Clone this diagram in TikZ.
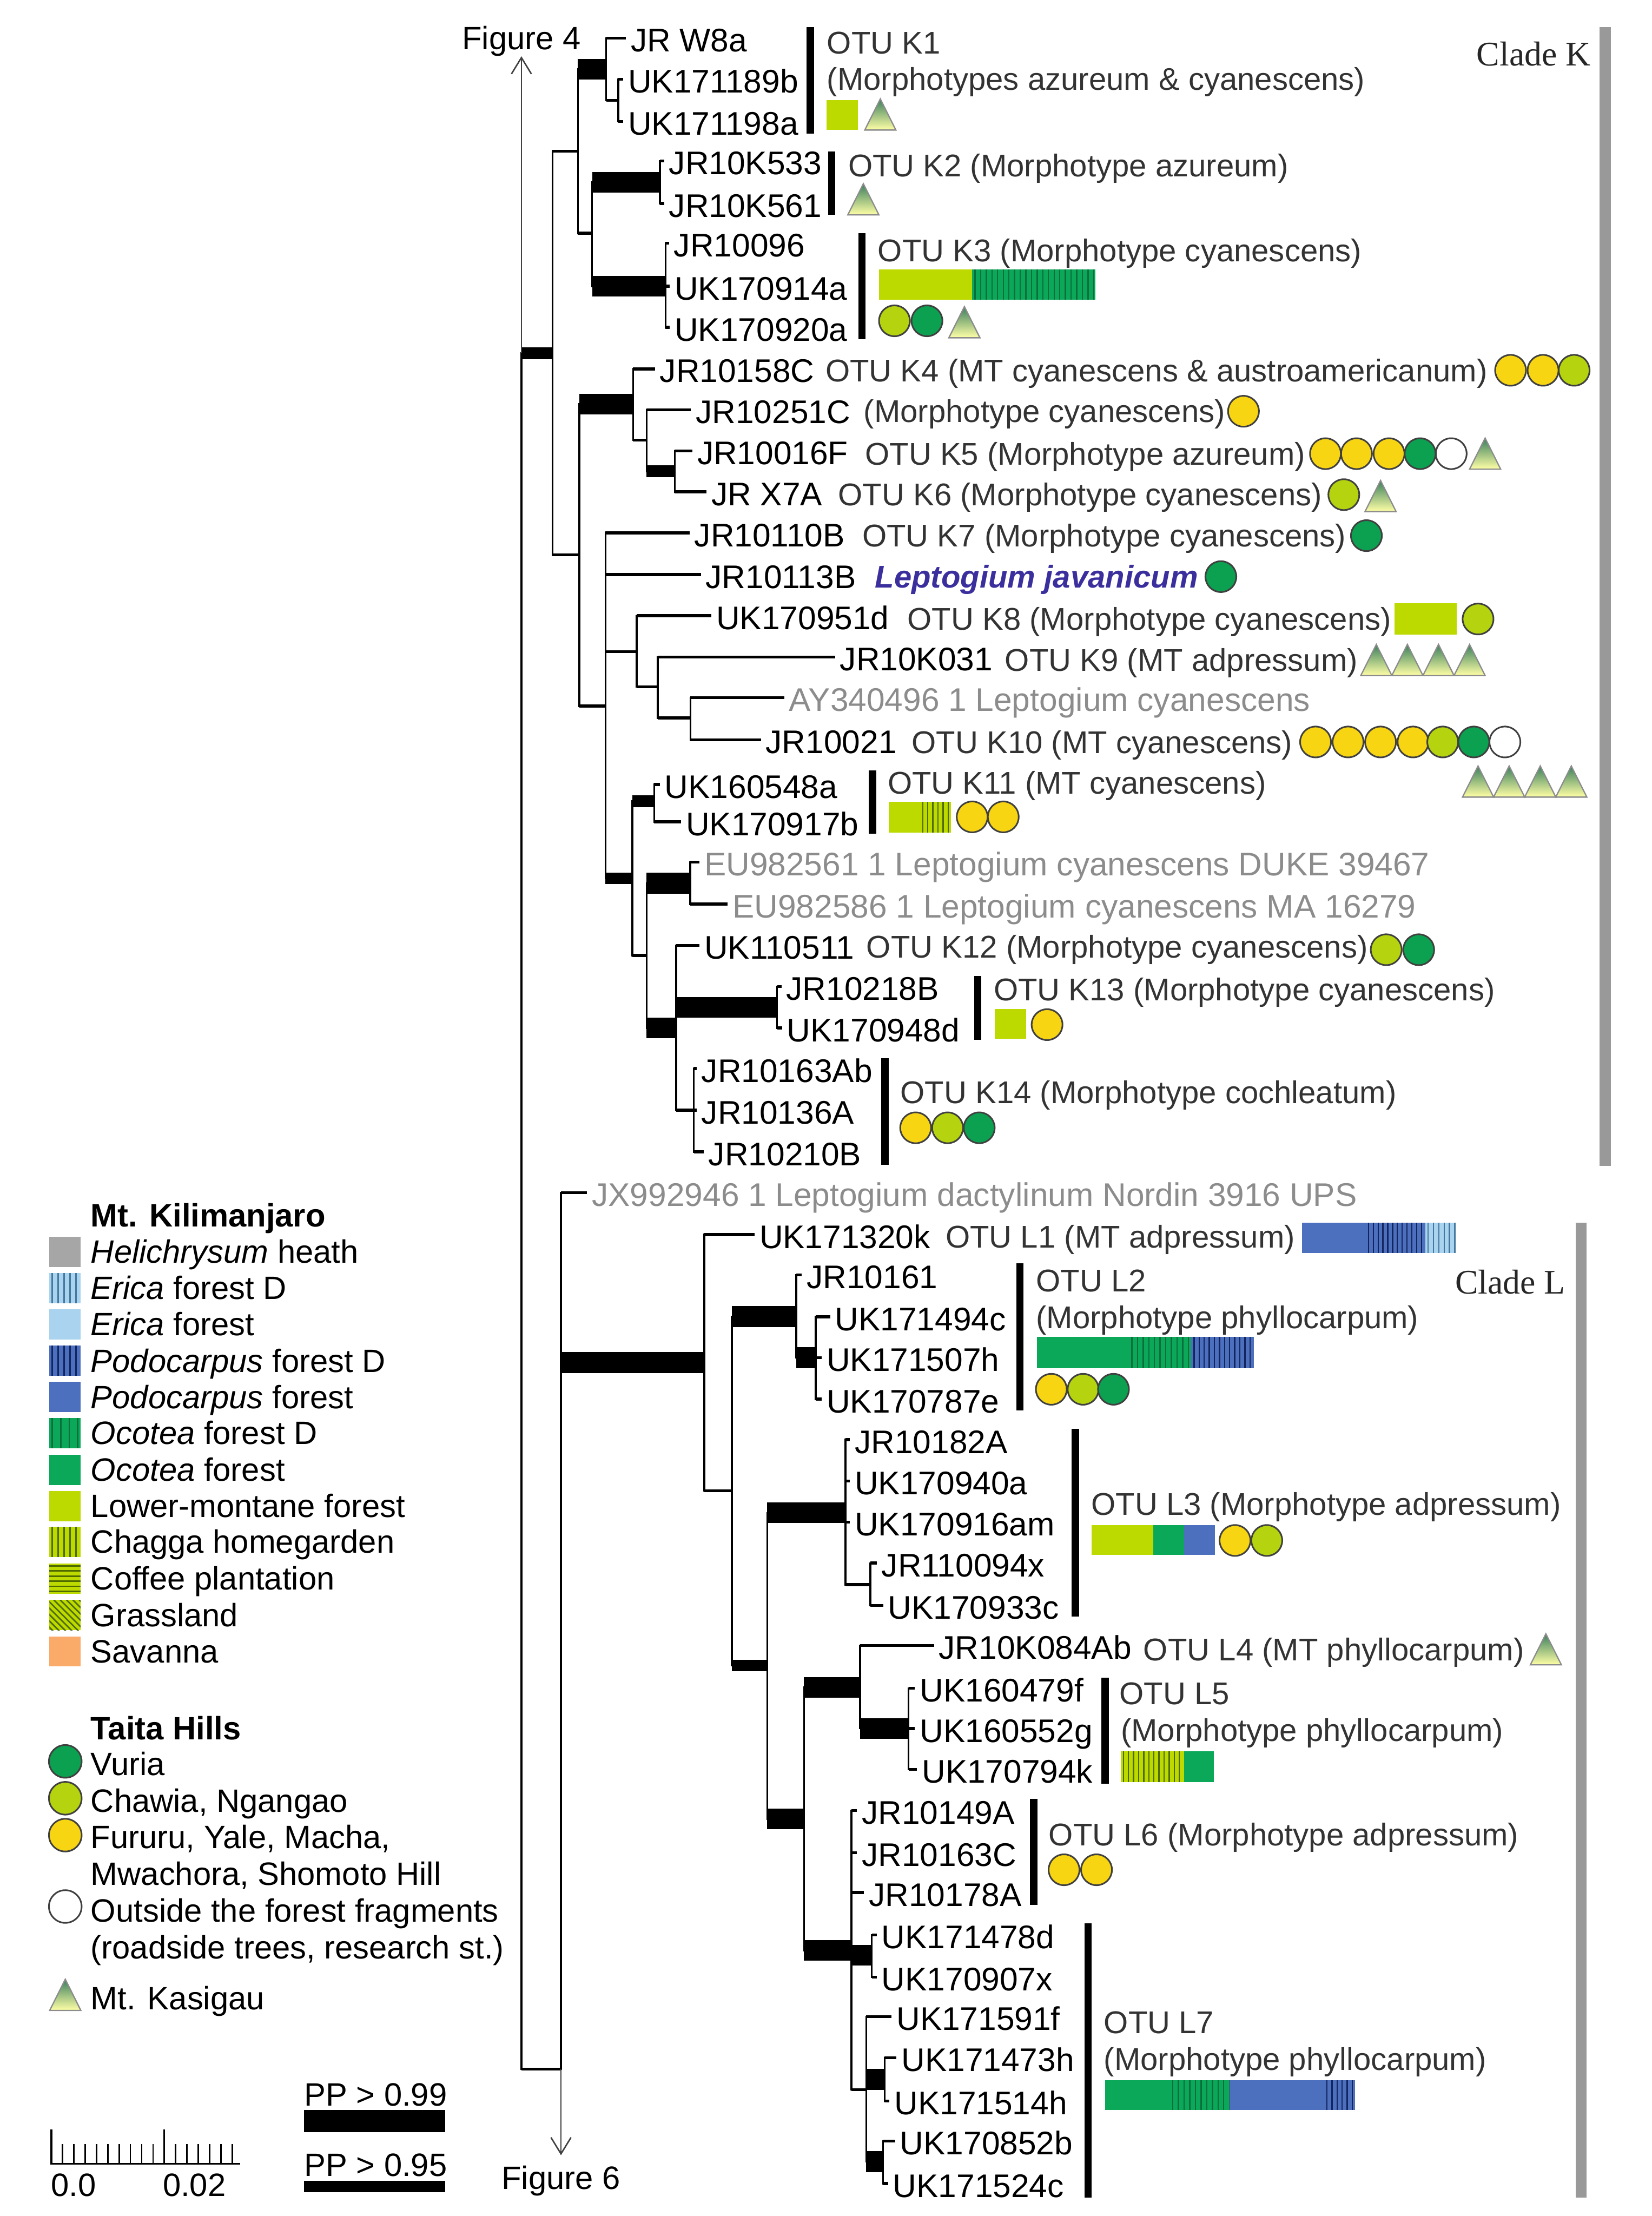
\documentclass[tikz,border=0pt]{standalone}
\usepackage{fontspec}
\setmainfont{Liberation Sans}
\newfontfamily\cladefont{Liberation Serif}
\usetikzlibrary{shapes.geometric, arrows.meta}

\definecolor{helich}{HTML}{A6A6A6}
\definecolor{erica}{HTML}{A9D3EE}
\definecolor{ericad}{HTML}{44789C}
\definecolor{podo}{HTML}{4C6FBE}
\definecolor{podod}{HTML}{13255E}
\definecolor{ocotea}{HTML}{0BA85A}
\definecolor{ocotead}{HTML}{0A6E3C}
\definecolor{lowmon}{HTML}{BCD900}
\definecolor{lowmond}{HTML}{4F6A00}
\definecolor{savanna}{HTML}{FBAB69}
\definecolor{vur}{HTML}{0BA150}
\definecolor{cha}{HTML}{B5D30F}
\definecolor{fur}{HTML}{F8D512}
\definecolor{otugray}{HTML}{8C8C8C}
\definecolor{javblue}{HTML}{3A2F9C}

\tikzset{
	br/.style={line width=1pt,line cap=rect},
	tip/.style={line width=1.6pt},
	pp95/.style={line width=6.4pt},
	pp99/.style={line width=11.5pt},
	leaf/.style={anchor=west,inner xsep=2.5pt,inner ysep=0pt,text height=15pt,text depth=0pt,font=\fontsize{18}{20}\selectfont},
	leafgray/.style={leaf,text=otugray},
	otu/.style={anchor=west,inner sep=0pt,text height=12.3pt,text depth=0pt,text=black!80,font=\fontsize{17.3}{20}\selectfont},
	legendtxt/.style={anchor=west,inner sep=0pt,text height=12.5pt,text depth=0pt,font=\fontsize{17.8}{20}\selectfont},
	clade/.style={anchor=east,inner sep=0pt,text=black!85,font=\cladefont\fontsize{19}{22}\selectfont},
	figlabel/.style={inner xsep=0pt,inner ysep=3.5pt,text height=12.5pt,text depth=0pt,font=\fontsize{17.8}{20}\selectfont},
	arr/.style={-{Straight Barb[length=9pt,width=11pt]},line width=.8pt,draw=black!75},
	sitemark/.style={circle,draw=black!75,line width=.9pt,minimum size=17pt,inner sep=0pt},
	kasigau/.style={draw=black!45,line width=.7pt,top color=ocotead!70!helich,bottom color=yellow!35!white},
	otubar/.style={line width=4pt},
	cladebar/.style={line width=6pt,draw=black!40}
}

\newcommand{\sites}[2]{\foreach \sx/\sc in {#2} \node[sitemark,fill=\sc] (site\sx-#1) at (\sx,#1) {};}
\newcommand{\kas}[2]{\path[kasigau] (#1-11,#2+11) -- (#1+11,#2+11) -- (#1,#2-11) -- cycle;}
\newcommand{\habbar}[5]{\fill[#5] (#1,#3) rectangle (#2,#4);}
\newcommand{\stripebar}[7]{\fill[#5] (#1,#3) rectangle (#2,#4);
	\pgfmathsetmacro\nextstripe{#1+2+#7}
	\pgfmathsetmacro\firststripe{#1+2}
	\foreach \sx in {\firststripe,\nextstripe,...,#2} \draw[#6,line width=.7pt] (\sx,#3) -- (\sx,#4);}

\begin{document}
\begin{tikzpicture}[x=0.02735cm,y=-0.02735cm]
	\useasboundingbox (0,0) rectangle (1169,1568);

	\foreach \n/\x/\y in {root/369/250,k0/391/250,k1/409/107,k2/429/49,k3/437.5/71,k4/419/165,k5/467/129,k6/471/202.5,
		k7/410/392.6,k8/448/286,k9/457.6/311.4,k10/477.5/333.5,k11/428.5/499.6,k12/450.6/461,k13/465.5/486,k14/488.6/508,
		k15/447.5/621.4,k16/463/567,k17/457.6/676,k18/488.5/625,k19/478.5/727.4,k20/550/712.8,k21/491/785.5,
		l0/397/1464,l1/498.4/964,l2/518/1054.8,l3/563.5/931.6,l4/577.3/960.7,l5/543/1178.5,l6/598.3/1070.4,l7/616/1121.3,
		l8/569/1287,l9/608.6/1194,l10/643/1223,l11/602.6/1380,l12/617/1383.5,l13/613/1478.6,l14/626/1471.3,l15/625/1529.5}
		\coordinate (\n) at (\x,\y);

	\foreach \n/\x/\y/\t in {jrw8a/443/27/JR W8a,uk171189b/441/56/UK171189b,uk171198a/441/86/UK171198a,
		jr10k533/470/114/JR10K533,jr10k561/470/144/JR10K561,jr10096/473.5/172/JR10096,uk170914a/474/202.5/UK170914a,
		uk170920a/474/231.6/UK170920a,jr10158c/463.5/261/JR10158C,jr10251c/489/290/JR10251C,jr10016f/490/319/JR10016F,
		jrx7a/500/348/JR X7A,jr10110b/488/377/JR10110B,jr10113b/496/406.5/JR10113B,uk170951d/503.5/435.7/UK170951d,
		jr10k031/591/465/JR10K031,jr10021/538.5/523.5/JR10021,uk160548a/467/555/UK160548a,uk170917b/482/581.5/UK170917b,
		uk110511/495/669/UK110511,jr10218b/553/698/JR10218B,uk170948d/553.5/727.3/UK170948d,
		jr10163ab/493/756/JR10163Ab,jr10136a/493/785.5/JR10136A,jr10210b/498/815/JR10210B,
		uk171320k/534/873.5/UK171320k,jr10161/567.5/902/JR10161,uk171494c/587.5/931.8/UK171494c,
		uk171507h/581.5/960.7/UK171507h,uk170787e/581.5/990/UK170787e,jr10182a/601.5/1018.7/JR10182A,
		uk170940a/601.5/1048/UK170940a,uk170916am/601.5/1077/UK170916am,jr110094x/620.5/1106/JR110094x,
		uk170933c/625/1136/UK170933c,jr10k084ab/661/1164.4/JR10K084Ab,uk160479f/647.5/1194.5/UK160479f,
		uk160552g/647.5/1223/UK160552g,uk170794k/649/1252/UK170794k,jr10149a/606.5/1281/JR10149A,
		jr10163c/606.5/1311/JR10163C,jr10178a/611.5/1339/JR10178A,uk171478d/620.5/1369/UK171478d,
		uk170907x/620.5/1399/UK170907x,uk171591f/631/1427/UK171591f,uk171473h/634.5/1456/UK171473h,
		uk171514h/629.5/1486.7/UK171514h,uk170852b/633.5/1515/UK170852b,uk171524c/628.5/1545/UK171524c}
		\node[leaf] (\n) at (\x,\y) {\t};

	\foreach \n/\x/\y/\t in {ay340496/555/493.7/AY340496 1 Leptogium cyanescens,
		eu982561/495/610/EU982561 1 Leptogium cyanescens DUKE 39467,
		eu982586/515/639.7/EU982586 1 Leptogium cyanescens MA 16279,
		jx992946/415.5/844/JX992946 1 Leptogium dactylinum Nordin 3916 UPS}
		\node[leafgray] (\n) at (\x,\y) {\t};

	\foreach \p/\c/\s in {root/k0/pp95,root/l0/tip,k0/k1/tip,k1/k2/pp99,k2/jrw8a/tip,k2/k3/tip,k3/uk171189b/tip,k3/uk171198a/tip,
		k1/k4/tip,k4/k5/pp99,k5/jr10k533/tip,k5/jr10k561/tip,k4/k6/pp99,k6/jr10096/tip,k6/uk170914a/tip,k6/uk170920a/tip,
		k0/k7/tip,k7/k8/pp99,k8/jr10158c/tip,k8/k9/tip,k9/jr10251c/tip,k9/k10/pp95,k10/jr10016f/tip,k10/jrx7a/tip,
		k7/k11/tip,k11/jr10110b/tip,k11/jr10113b/tip,k11/k12/tip,k12/uk170951d/tip,k12/k13/tip,k13/jr10k031/tip,k13/k14/tip,
		k14/ay340496/tip,k14/jr10021/tip,k11/k15/pp95,k15/k16/pp95,k16/uk160548a/tip,k16/uk170917b/tip,k15/k17/tip,
		k17/k18/pp99,k18/eu982561/tip,k18/eu982586/tip,k17/k19/pp99,k19/uk110511/tip,k19/k20/pp99,k20/jr10218b/tip,k20/uk170948d/tip,
		k19/k21/tip,k21/jr10163ab/tip,k21/jr10136a/tip,k21/jr10210b/tip,
		l0/jx992946/tip,l0/l1/pp99,l1/uk171320k/tip,l1/l2/tip,l2/l3/pp99,l3/jr10161/tip,l3/l4/pp99,l4/uk171494c/tip,l4/uk171507h/tip,l4/uk170787e/tip,
		l2/l5/pp95,l5/l6/pp99,l6/jr10182a/tip,l6/uk170940a/tip,l6/uk170916am/tip,l6/l7/tip,l7/jr110094x/tip,l7/uk170933c/tip,
		l5/l8/pp99,l8/l9/pp99,l9/jr10k084ab/tip,l9/l10/pp99,l10/uk160479f/tip,l10/uk160552g/tip,l10/uk170794k/tip,
		l8/l11/pp99,l11/jr10149a/tip,l11/jr10163c/tip,l11/jr10178a/tip,l11/l12/pp99,l12/uk171478d/tip,l12/uk170907x/tip,
		l11/l13/tip,l13/uk171591f/tip,l13/l14/pp99,l14/uk171473h/tip,l14/uk171514h/tip,l13/l15/pp99,l15/uk170852b/tip,l15/uk171524c/tip}
	{
		\draw[br] (\p) -- (\p |- \c);
		\draw[\s] (\p |- \c) -- (\c);
	}

	\node[figlabel] (fig4) at (369,27) {Figure 4};
	\node[figlabel,inner ysep=6pt] (fig6) at (397,1541) {Figure 6};
	\draw[arr] (root) -- (fig4);
	\draw[arr] (l0) -- (fig6);

	\foreach \x/\a/\b in {573.5/19/94.4,588.5/107/152,610/165/240,617.5/545/590,692/690.4/735.7,626.3/748.8/824,
		721.8/894/998,761/1011/1144,782/1187/1262,731.5/1273/1348,770/1361/1555}
		\draw[otubar] (\x,\a) -- (\x,\b);
	\draw[cladebar] (1136,19) -- (1136,825);
	\draw[cladebar] (1119,865) -- (1119,1555);
	\node[clade] (cladek) at (1126,38) {Clade K};
	\node[clade] (cladel) at (1108,907) {Clade L};

	\foreach \n/\x/\y/\t in {k1a/585/30/OTU K1,k1b/585/56/(Morphotypes azureum \& cyanescens),k2/600/117/OTU K2 (Morphotype azureum),
		k3/621/177/OTU K3 (Morphotype cyanescens),k4/584/262/OTU K4 (MT cyanescens \& austroamericanum),k4b/611/291/(Morphotype cyanescens),
		k5/612/321/OTU K5 (Morphotype azureum),k6/593/350/OTU K6 (Morphotype cyanescens),k7/610/379/OTU K7 (Morphotype cyanescens),
		k8/642/438/OTU K8 (Morphotype cyanescens),k9/711/467/OTU K9 (MT adpressum),k10/645/525/OTU K10 (MT cyanescens),
		k11/628/554/OTU K11 (MT cyanescens),k12/613/670/OTU K12 (Morphotype cyanescens),k13/703/700/OTU K13 (Morphotype cyanescens),
		k14/637/773/OTU K14 (Morphotype cochleatum),l1/669/875/OTU L1 (MT adpressum),l2a/733/906/OTU L2,l2b/733/932/(Morphotype phyllocarpum),
		l3/772/1064/OTU L3 (Morphotype adpressum),l4/809/1167/OTU L4 (MT phyllocarpum),l5a/792/1198/OTU L5,l5b/793/1224/(Morphotype phyllocarpum),
		l6/742/1298/OTU L6 (Morphotype adpressum),l7a/781/1431/OTU L7,l7b/781/1457/(Morphotype phyllocarpum)}
		\node[otu] (otu\n) at (\x,\y) {\t};
	\node[otu,text=javblue,font=\fontsize{17.3}{20}\selectfont\bfseries\itshape] (javanicum) at (619,408) {Leptogium javanicum};

	\habbar{585}{607}{71}{92}{lowmon}
	\habbar{622}{688}{190.5}{212}{lowmon}
	\stripebar{688}{775}{190.5}{212}{ocotea}{ocotead}{4}
	\habbar{987}{1031}{427}{449}{lowmon}
	\stripebar{651}{673}{567.5}{589}{lowmon}{lowmond}{3.6}
	\habbar{629}{651}{567.5}{589}{lowmon}
	\habbar{704}{726}{714}{735}{lowmon}
	\habbar{921.4}{966.5}{865}{886.6}{podo}
	\stripebar{966.5}{1008.6}{865}{886.6}{podo}{podod}{3.4}
	\stripebar{1008.6}{1030}{865}{886.6}{erica}{ericad}{3.8}
	\habbar{733.7}{799}{946}{968}{ocotea}
	\stripebar{799}{843}{946}{968}{ocotea}{ocotead}{4}
	\stripebar{843}{887.3}{946}{968}{podo}{podod}{3.6}
	\habbar{772.4}{816}{1079}{1100}{lowmon}
	\habbar{816}{838}{1079}{1100}{ocotea}
	\habbar{838}{859.7}{1079}{1100}{podo}
	\stripebar{793}{838}{1239}{1261}{lowmon}{lowmond}{3.6}
	\habbar{838}{859}{1239}{1261}{ocotea}
	\habbar{782}{828}{1472}{1493}{ocotea}
	\stripebar{828}{870}{1472}{1493}{ocotea}{ocotead}{4}
	\habbar{870}{937}{1472}{1493}{podo}
	\stripebar{937}{959}{1472}{1493}{podo}{podod}{3.6}

	\sites{227}{633/cha,656/vur}
	\sites{262}{1069/fur,1092/fur,1114/cha}
	\sites{291}{880/fur}
	\sites{321}{938/fur,960/fur,983/fur,1005/vur,1027/white}
	\sites{350}{951/cha}
	\sites{379}{967/vur}
	\sites{408}{864/vur}
	\sites{438}{1046/cha}
	\sites{525}{931/fur,954/fur,977/fur,1000/fur,1021/cha,1043/vur,1065/white}
	\sites{578}{688/fur,710/fur}
	\sites{672}{981/cha,1004/vur}
	\sites{725}{741/fur}
	\sites{798}{648/fur,670.6/cha,693/vur}
	\sites{983}{744/fur,766.5/cha,788/vur}
	\sites{1090}{874/fur,896.5/cha}
	\sites{1323}{753/fur,776/fur}

	\kas{623}{81}
	\kas{611}{141}
	\kas{682.5}{228}
	\kas{1051}{321}
	\kas{977}{351}
	\foreach \x in {974,996,1018,1040} {\kas{\x}{467}}
	\foreach \x in {1046,1068,1090,1112} {\kas{\x}{553}}
	\kas{1094}{1167}

	\node[legendtxt,font=\fontsize{17.8}{20}\selectfont\bfseries] (kili) at (64,860) {Mt. Kilimanjaro};
	\foreach \n/\y/\t in {leghel/885.7/\emph{Helichrysum} heath,legericd/911.4/\emph{Erica} forest D,legeri/937/\emph{Erica} forest,
		legpodd/962.8/\emph{Podocarpus} forest D,legpod/988.5/\emph{Podocarpus} forest,legocod/1014/\emph{Ocotea} forest D,
		legoco/1040/\emph{Ocotea} forest,leglow/1065.6/Lower-montane forest,legcha/1091/Chagga homegarden,
		legcof/1117/Coffee plantation,leggra/1142.8/Grassland,legsav/1168.5/Savanna}
		\node[legendtxt] (\n) at (64,\y) {\t};

	\habbar{35}{57}{875}{896.4}{helich}
	\stripebar{35}{57}{900.7}{922.1}{erica}{ericad}{4.2}
	\habbar{35}{57}{926.3}{947.7}{erica}
	\stripebar{35}{57}{952}{973.5}{podo}{podod}{4.2}
	\habbar{35}{57}{977.8}{999.2}{podo}
	\stripebar{35}{57}{1003.3}{1024.7}{ocotea}{ocotead}{6}
	\habbar{35}{57}{1029.3}{1050.7}{ocotea}
	\habbar{35}{57}{1055}{1076.3}{lowmon}
	\stripebar{35}{57}{1080.3}{1101.7}{lowmon}{lowmond}{4.2}
	\habbar{35}{57}{1106.3}{1127.7}{lowmon}
	\foreach \y in {1108,1111.6,...,1127} \draw[lowmond,line width=.8pt] (35,\y) -- (57,\y);
	\habbar{35}{57}{1132}{1153.5}{lowmon}
	\begin{scope}
		\clip (35,1132) rectangle (57,1153.5);
		\foreach \d in {-24,-19.5,...,22} \draw[lowmond,line width=.8pt] (35+\d,1132) -- (57+\d,1154);
	\end{scope}
	\habbar{35}{57}{1157.8}{1179.2}{savanna}

	\node[legendtxt,font=\fontsize{17.8}{20}\selectfont\bfseries] (taita) at (64,1223) {Taita Hills};
	\foreach \n/\y/\t in {legvur/1248/Vuria,legchaw/1274/{Chawia, Ngangao},legfur/1300/{Fururu, Yale, Macha,},
		legmwa/1326/{Mwachora, Shomoto Hill},legout/1352/Outside the forest fragments,
		legroad/1378/{(roadside trees, research st.)},legkas/1414/Mt. Kasigau}
		\node[legendtxt] (\n) at (64,\y) {\t};
	\node[sitemark,minimum size=18pt,fill=vur] (sitevur) at (46.2,1246.3) {};
	\node[sitemark,minimum size=18pt,fill=cha] (sitecha) at (46.2,1272.4) {};
	\node[sitemark,minimum size=18pt,fill=fur] (sitefur) at (46.2,1298.5) {};
	\node[sitemark,minimum size=18pt,fill=white] (siteout) at (46.2,1349) {};
	\kas{46.2}{1411.5}

	\draw[line width=1.1pt] (35.7,1531) -- (170,1531);
	\foreach \k in {0,...,16} \draw[line width=.8pt] (36.3+8*\k,1531) -- (36.3+8*\k,1517);
	\foreach \k in {0,10} \draw[line width=1pt] (36.3+8*\k,1531) -- (36.3+8*\k,1506.6);
	\node[legendtxt] (scale0) at (36,1546) {0.0};
	\node[legendtxt] (scale2) at (115,1546) {0.02};

	\node[legendtxt] (pp99txt) at (215,1482) {PP > 0.99};
	\node[legendtxt] (pp95txt) at (215,1532) {PP > 0.95};
	\fill (215,1493) rectangle (315,1508.5);
	\fill (215,1543) rectangle (315,1551.3);
\end{tikzpicture}
\end{document}
